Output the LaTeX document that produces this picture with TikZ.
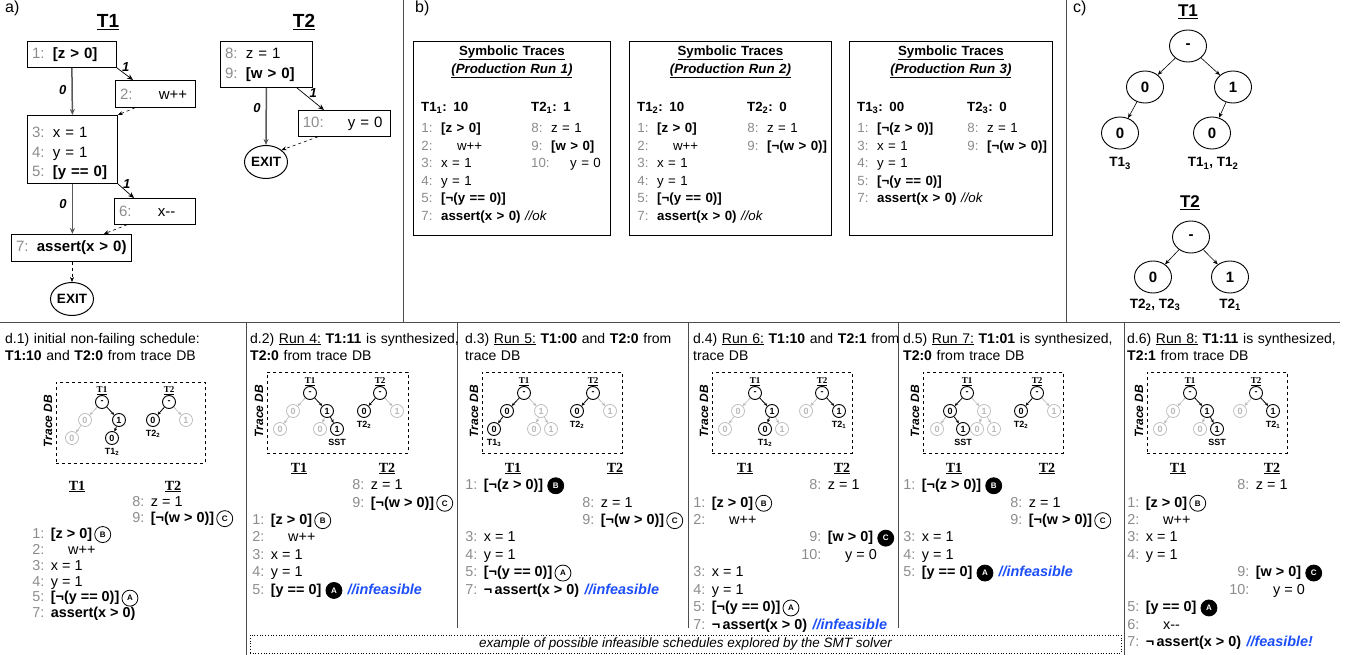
\documentclass[tikz,border=0pt]{standalone}
\usepackage{fontspec}
\setmainfont{Liberation Sans}
\newfontfamily\hdserif{Liberation Serif}
\usetikzlibrary{positioning,arrows.meta,shapes.geometric}

\definecolor{numgray}{gray}{0.55}
\definecolor{offgray}{gray}{0.72}
\definecolor{infblue}{RGB}{28,78,250}

\newcommand{\afont}{\fontsize{15}{19.5}\selectfont}
\newcommand{\bfnt}{\fontsize{13.3}{17.6}\selectfont}
\newcommand{\dfont}{\fontsize{14}{17.5}\selectfont}
\newcommand{\cfont}{\fontsize{14.4}{17.5}\selectfont}
\newcommand{\tfont}{\fontsize{9}{9}\selectfont\bfseries}
% gray line number, then the statement
\newcommand{\cl}[3][0.45em]{\makebox[0.85em][r]{\textcolor{numgray}{#2}}\hspace{#1}#3}
\newcommand{\ind}{\hspace{1.2em}}
\newcommand{\Ts}[2]{T#1\textsubscript{#2}}

\begin{document}
\begin{tikzpicture}[%
        x=1pt, y=-1pt,
        frame/.style={draw=black!70, line width=0.9pt},
        panel/.style={anchor=base west, inner sep=0pt, node font=\fontsize{16}{16}\selectfont},
        bigtitle/.style={anchor=base, inner sep=0pt, node font=\fontsize{19}{19}\selectfont\bfseries},
        cfgbox/.style={draw, line width=0.8pt, anchor=north west, inner xsep=4.5pt, inner ysep=0pt, align=left, node font=\afont},
        exitnode/.style={draw, ellipse, line width=1pt, minimum width=43pt, minimum height=33pt, inner sep=0pt, node font=\fontsize{13.5}{13.5}\selectfont\bfseries},
        zero/.style={draw=black!65, line width=1.5pt, -{Stealth[length=6pt, width=5pt]}},
        one/.style={line width=0.7pt, -{Stealth[length=6pt, width=5pt]}},
        back/.style={dashed, line width=0.6pt, -{Stealth[length=5pt, width=4pt]}},
        edgelab/.style={inner sep=0pt, node font=\fontsize{13}{13}\selectfont\bfseries\itshape},
        tracebox/.style={draw, line width=0.8pt, anchor=north west, minimum height=194pt, inner sep=0pt},
        tracetitle/.style={anchor=base, text width=190pt, align=center, inner sep=0pt, node font=\bfnt\bfseries},
        tracecol/.style={anchor=base west, text width=150pt, align=left, inner sep=0pt, node font=\bfnt},
        ctitle/.style={anchor=base, inner sep=0pt, node font=\fontsize{17}{17}\selectfont\bfseries},
        cnode/.style={draw, ellipse, line width=0.9pt, minimum width=37pt, minimum height=32pt, inner sep=0pt, node font=\fontsize{15}{15}\selectfont\bfseries},
        clabel/.style={anchor=base, inner sep=0pt, node font=\fontsize{13.5}{13.5}\selectfont\bfseries},
        cedge/.style={line width=0.6pt, -{Stealth[length=5pt, width=4pt]}},
        dhead/.style={anchor=base west, text width=240pt, align=left, inner sep=0pt, node font=\dfont},
        dbbox/.style={draw, dashed, line width=0.8pt, anchor=north west, minimum height=81pt, inner sep=0pt},
        dbname/.style={rotate=90, inner sep=0pt, node font=\fontsize{12}{12}\selectfont\bfseries\itshape},
        colhead/.style={anchor=base, inner sep=0pt, node font=\hdserif\fontsize{14}{14}\selectfont\bfseries},
        tn/.style={circle, draw, line width=0.9pt, minimum size=13pt, inner sep=0pt, node font=\tfont},
        tg/.style={tn, draw=offgray, text=offgray, line width=0.7pt},
        tttl/.style={inner sep=0pt, node font=\hdserif\tfont},
        tlab/.style={inner sep=0pt, node font=\tfont},
        te/.style={line width=0.8pt, -{Stealth[length=3.5pt, width=3pt]}},
        tge/.style={draw=offgray, line width=0.6pt, -{Stealth[length=3.5pt, width=3pt]}},
        code/.style={anchor=base west, inner sep=0pt, text height=10.5pt, text depth=3pt, node font=\cfont},
        mk/.style={circle, draw, fill=white, line width=0.8pt, minimum size=16pt, inner sep=0pt, node font=\fontsize{8}{8}\selectfont\bfseries},
        mkfull/.style={mk, fill=black, text=white},
        infeas/.style={code, text=infblue, node font=\cfont\bfseries\itshape},
        notebox/.style={draw, dotted, line width=0.7pt, minimum width=871pt, minimum height=18pt, inner sep=0pt, node font=\fontsize{13.5}{13.5}\selectfont\itshape},
    ]

    \useasboundingbox (0,0) rectangle (1352,655);

    \draw [frame] (0,322) -- (1340,322);
    \draw [frame] (403,0) -- (403,322);
    \draw [frame] (1066,0) -- (1066,322);
    \draw [frame] (246,322) -- (246,655);
    \draw [frame] (1124,322) -- (1124,655);
    \foreach \x in {457,688,898} {%
        \draw [frame] (\x,322) -- (\x,628);
    }

    % a) control flow of both threads
    \node (a_label) at (5,13) [panel] {a)};
    \node (a_t1) at (108,28) [bigtitle] {\underline{T1}};
    \node (a_t2) at (304,28) [bigtitle] {\underline{T2}};

    \node (s1) at (27,41) [cfgbox, text width=80pt, minimum height=26pt] {\cl[0.55em]{1:}{\textbf{[z > 0]}}};
    \node (s2) at (115,80) [cfgbox, text width=71pt, minimum height=27pt] {\cl[0.55em]{2:}{\ind w++}};
    \node (s3) at (27,115) [cfgbox, text width=81pt, text height=22.3pt, text depth=45.7pt] {\cl[0.55em]{3:}{x = 1}\\\cl[0.55em]{4:}{y = 1}\\\cl[0.55em]{5:}{\textbf{[y == 0]}}};
    \node (s6) at (114,198) [cfgbox, text width=72pt, minimum height=26pt] {\cl[0.55em]{6:}{\ind x-{}-}};
    \node (s7) at (11,234) [cfgbox, text width=111pt, minimum height=27pt] {\cl[0.55em]{7:}{\textbf{assert(x > 0)}}};
    \node (e1) at (72,299) [exitnode] {EXIT};

    \node (s8) at (220,41) [cfgbox, text width=83pt, text height=17.3pt, text depth=28.7pt] {\cl[0.55em]{8:}{z = 1}\\\cl[0.55em]{9:}{\textbf{[w > 0]}}};
    \node (s10) at (298,110) [cfgbox, text width=83pt, minimum height=26pt] {\textcolor{numgray}{10:}\hspace{1.6em}y = 0};
    \node (e2) at (266,162) [exitnode] {EXIT};

    \draw [zero] (s1.south) -- (s3.north) node (l0a) [edgelab, pos=0.48, left=5pt] {0};
    \draw [one] (s1.south east) -- ([xshift=18pt]s2.north west) node (l1a) [edgelab, pos=0.55, above=3pt] {1};
    \draw [back] ([xshift=20pt]s2.south west) -- (s3.north east);
    \draw [zero] (s3.south) -- (s3.south |- s7.north) node (l0b) [edgelab, pos=0.4, left=5pt] {0};
    \draw [one] (s3.south east) -- ([xshift=20pt]s6.north west) node (l1b) [edgelab, pos=0.55, above=3pt] {1};
    \draw [back] ([xshift=13pt]s6.south west) -- ([xshift=-28pt]s7.north east);
    \draw [back] (e1 |- s7.south) -- (e1.north);

    \draw [zero] (s8.south) -- (e2.north) node (l0c) [edgelab, pos=0.35, left=5pt] {0};
    \draw [one] ([xshift=-16pt]s8.south east) -- ([xshift=26pt]s10.north west) node (l1c) [edgelab, pos=0.6, above=3pt] {1};
    \draw [back] ([xshift=20pt]s10.south west) -- (e2.north east);

    % b) symbolic traces
    \node (b_label) at (415,13) [panel] {b)};
    \node (run1) at (413,41) [tracebox, minimum width=197pt] {};
    \node (run2) at (629,41) [tracebox, minimum width=202pt] {};
    \node (run3) at (849,41) [tracebox, minimum width=203pt] {};
    \foreach \run in {1,2,3} {%
        \node (run\run_title) at ([yshift=-14.5pt]run\run.north) [tracetitle] {\underline{Symbolic Traces}\\\underline{\textit{(Production Run \run)}}};
    }

    \node (run1_t1) at ([xshift=8pt, yshift=-70.5pt]run1.north west) [tracecol] {%
        \textbf{\Ts{1}{1}: 10}\\[3.4pt]
        \cl[0.65em]{1:}{\textbf{[z > 0]}}\\
        \cl[0.65em]{2:}{\ind w++}\\
        \cl[0.65em]{3:}{x = 1}\\
        \cl[0.65em]{4:}{y = 1}\\
        \cl[0.65em]{5:}{\textbf{[¬(y == 0)]}}\\
        \cl[0.65em]{7:}{\textbf{assert(x > 0)} \textit{//ok}}};
    \node (run1_t2) at ([xshift=118pt, yshift=-70.5pt]run1.north west) [tracecol, text width=75pt] {%
        \textbf{\Ts{2}{1}: 1}\\[3.4pt]
        \cl[0.65em]{8:}{z = 1}\\
        \cl[0.65em]{9:}{\textbf{[w > 0]}}\\
        \textcolor{numgray}{10:}\hspace{1.54em}y = 0};

    \node (run2_t1) at ([xshift=8pt, yshift=-70.5pt]run2.north west) [tracecol] {%
        \textbf{\Ts{1}{2}: 10}\\[3.4pt]
        \cl[0.65em]{1:}{\textbf{[z > 0]}}\\
        \cl[0.65em]{2:}{\ind w++}\\
        \cl[0.65em]{3:}{x = 1}\\
        \cl[0.65em]{4:}{y = 1}\\
        \cl[0.65em]{5:}{\textbf{[¬(y == 0)]}}\\
        \cl[0.65em]{7:}{\textbf{assert(x > 0)} \textit{//ok}}};
    \node (run2_t2) at ([xshift=118pt, yshift=-70.5pt]run2.north west) [tracecol, text width=82pt] {%
        \textbf{\Ts{2}{2}: 0}\\[3.4pt]
        \cl[0.65em]{8:}{z = 1}\\
        \cl[0.65em]{9:}{\textbf{[¬(w > 0)]}}};

    \node (run3_t1) at ([xshift=8pt, yshift=-70.5pt]run3.north west) [tracecol] {%
        \textbf{\Ts{1}{3}: 00}\\[3.4pt]
        \cl[0.65em]{1:}{\textbf{[¬(z > 0)]}}\\
        \cl[0.65em]{3:}{x = 1}\\
        \cl[0.65em]{4:}{y = 1}\\
        \cl[0.65em]{5:}{\textbf{[¬(y == 0)]}}\\
        \cl[0.65em]{7:}{\textbf{assert(x > 0)} \textit{//ok}}};
    \node (run3_t2) at ([xshift=118pt, yshift=-70.5pt]run3.north west) [tracecol, text width=82pt] {%
        \textbf{\Ts{2}{3}: 0}\\[3.4pt]
        \cl[0.65em]{8:}{z = 1}\\
        \cl[0.65em]{9:}{\textbf{[¬(w > 0)]}}};

    % c) trace DB
    \node (c_label) at (1073,13) [panel] {c)};
    \node (c1_title) at (1188,16.5) [ctitle] {\underline{T1}};
    \node (c1) at (1188,46) [cnode] {-};
    \node (c1_0) at (1145,87) [cnode] {0};
    \node (c1_1) at (1233,87) [cnode] {1};
    \node (c1_00) at (1120,133) [cnode] {0};
    \node (c1_10) at (1212,133) [cnode] {0};
    \node (c1_lab00) at (1120,167) [clabel] {\Ts{1}{3}};
    \node (c1_lab10) at (1213,167) [clabel] {\Ts{1}{1}, \Ts{1}{2}};
    \draw [cedge] (c1) -- (c1_0);
    \draw [cedge] (c1) -- (c1_1);
    \draw [cedge] (c1_0) -- (c1_00);
    \draw [cedge] (c1_1) -- (c1_10);

    \node (c2_title) at (1190,208) [ctitle] {\underline{T2}};
    \node (c2) at (1191,237) [cnode] {-};
    \node (c2_0) at (1153,277) [cnode] {0};
    \node (c2_1) at (1230,277) [cnode] {1};
    \node (c2_lab0) at (1155,308) [clabel] {\Ts{2}{2}, \Ts{2}{3}};
    \node (c2_lab1) at (1230,308) [clabel] {\Ts{2}{1}};
    \draw [cedge] (c2) -- (c2_0);
    \draw [cedge] (c2) -- (c2_1);

    % d) schedules: trace DB boxes, roots and column heads
    \foreach \i/\bx/\by/\bw/\ra/\rb/\ry/\ha/\hb/\hy in {%
            1/56/382/149/102/169/402/77/173/490,
            2/267/372/141/310/380/393/299/387/472,
            3/482/372/140/524/593/393/513/615/472,
            4/712/372/140/755/822/393/745/842/472,
            5/923/372/140/967/1037/393/954/1047/472,
            6/1147/372/140/1190/1256/393/1178/1272/472} {%
        \node (d\i_db) at (\bx,\by) [dbbox, minimum width=\bw pt] {};
        \node (d\i_dbname) at ([xshift=-8pt, yshift=2pt]d\i_db.west) [dbname] {Trace DB};
        \node (d\i a) at (\ra,\ry) [tn] {-};
        \node (d\i b) at (\rb,\ry) [tn] {-};
        \node (d\i a_ttl) [tttl, above=0.5pt of d\i a] {\underline{T1}};
        \node (d\i b_ttl) [tttl, above=0.5pt of d\i b] {\underline{T2}};
        \node (d\i_h1) at (\ha,\hy) [colhead] {\underline{T1}};
        \node (d\i_h2) at (\hb,\hy) [colhead] {\underline{T2}};
    }

    % d.1
    \node (d1a0) at ([shift={(-17,18)}]d1a) [tg] {0};
    \node (d1a1) at ([shift={(17,18)}]d1a) [tn] {1};
    \node (d1a00) at ([shift={(-30,36)}]d1a) [tg] {0};
    \node (d1a10) at ([shift={(10,36)}]d1a) [tn] {0};
    \node (d1a10_lab) [tlab, below=3pt of d1a10] {\Ts{1}{2}};
    \node (d1b0) at ([shift={(-16,18)}]d1b) [tn] {0};
    \node (d1b1) at ([shift={(17,18)}]d1b) [tg] {1};
    \node (d1b0_lab) [tlab, below=3pt of d1b0] {\Ts{2}{2}};
    \draw [tge] (d1a) -- (d1a0);
    \draw [te] (d1a) -- (d1a1);
    \draw [tge] (d1a0) -- (d1a00);
    \draw [te] (d1a1) -- (d1a10);
    \draw [te] (d1b) -- (d1b0);
    \draw [tge] (d1b) -- (d1b1);

    \node (d1_head) at (5,343) [dhead] {d.1) initial non-failing schedule:\\\textbf{T1:10} and \textbf{T2:0} from trace DB};
    \node (d1_8) at (132,506.5) [code] {\cl{8:}{z = 1}};
    \node (d1_9) at (132,522.4) [code] {\cl{9:}{\textbf{[¬(w > 0)]}}};
    \node (d1_C) [mk, right=2pt of d1_9] {C};
    \node (d1_1) at (32,538.3) [code] {\cl{1:}{\textbf{[z > 0]}}};
    \node (d1_B) [mk, right=2pt of d1_1] {B};
    \node (d1_2) at (32,554.2) [code] {\cl{2:}{\ind w++}};
    \node (d1_3) at (32,570.1) [code] {\cl{3:}{x = 1}};
    \node (d1_4) at (32,586) [code] {\cl{4:}{y = 1}};
    \node (d1_5) at (32,601.9) [code] {\cl{5:}{\textbf{[¬(y == 0)]}}};
    \node (d1_A) [mk, right=2pt of d1_5] {A};
    \node (d1_7) at (32,617.8) [code] {\cl{7:}{\textbf{assert(x > 0)}}};

    % d.2
    \node (d2a0) at ([shift={(-17,18)}]d2a) [tg] {0};
    \node (d2a1) at ([shift={(17,18)}]d2a) [tn] {1};
    \node (d2a00) at ([shift={(-30,36)}]d2a) [tg] {0};
    \node (d2a10) at ([shift={(10,36)}]d2a) [tg] {0};
    \node (d2a11) at ([shift={(27,36)}]d2a) [tn] {1};
    \node (d2a11_lab) [tlab, below=3pt of d2a11] {SST};
    \node (d2b0) at ([shift={(-16,18)}]d2b) [tn] {0};
    \node (d2b1) at ([shift={(17,18)}]d2b) [tg] {1};
    \node (d2b0_lab) [tlab, below=3pt of d2b0] {\Ts{2}{2}};
    \draw [tge] (d2a) -- (d2a0);
    \draw [te] (d2a) -- (d2a1);
    \draw [tge] (d2a0) -- (d2a00);
    \draw [tge] (d2a1) -- (d2a10);
    \draw [te] (d2a1) -- (d2a11);
    \draw [te] (d2b) -- (d2b0);
    \draw [tge] (d2b) -- (d2b1);

    \node (d2_head) at (250,343) [dhead] {d.2) \underline{Run 4:} \textbf{T1:11} is synthesized,\\\textbf{T2:0} from trace DB};
    \node (d2_8) at (352,489.5) [code] {\cl{8:}{z = 1}};
    \node (d2_9) at (352,507) [code] {\cl{9:}{\textbf{[¬(w > 0)]}}};
    \node (d2_C) [mk, right=2pt of d2_9] {C};
    \node (d2_1) at (252,524.4) [code] {\cl{1:}{\textbf{[z > 0]}}};
    \node (d2_B) [mk, right=2pt of d2_1] {B};
    \node (d2_2) at (252,541.9) [code] {\cl{2:}{\ind w++}};
    \node (d2_3) at (252,559.3) [code] {\cl{3:}{x = 1}};
    \node (d2_4) at (252,576.8) [code] {\cl{4:}{y = 1}};
    \node (d2_5) at (252,594.2) [code] {\cl{5:}{\textbf{[y == 0]}}};
    \node (d2_A) [mkfull, right=4pt of d2_5] {A};
    \node (d2_note) [infeas, right=5pt of d2_A] {//infeasible};

    % d.3
    \node (d3a0) at ([shift={(-17,18)}]d3a) [tn] {0};
    \node (d3a1) at ([shift={(17,18)}]d3a) [tg] {1};
    \node (d3a00) at ([shift={(-30,36)}]d3a) [tn] {0};
    \node (d3a10) at ([shift={(10,36)}]d3a) [tg] {0};
    \node (d3a11) at ([shift={(27,36)}]d3a) [tg] {1};
    \node (d3a00_lab) [tlab, below=3pt of d3a00] {\Ts{1}{3}};
    \node (d3b0) at ([shift={(-16,18)}]d3b) [tn] {0};
    \node (d3b1) at ([shift={(17,18)}]d3b) [tg] {1};
    \node (d3b0_lab) [tlab, below=3pt of d3b0] {\Ts{2}{2}};
    \draw [te] (d3a) -- (d3a0);
    \draw [tge] (d3a) -- (d3a1);
    \draw [te] (d3a0) -- (d3a00);
    \draw [tge] (d3a1) -- (d3a10);
    \draw [tge] (d3a1) -- (d3a11);
    \draw [te] (d3b) -- (d3b0);
    \draw [tge] (d3b) -- (d3b1);

    \node (d3_head) at (465,343) [dhead] {d.3) \underline{Run 5:} \textbf{T1:00} and \textbf{T2:0} from\\trace DB};
    \node (d3_1) at (465,489.5) [code] {\cl{1:}{\textbf{[¬(z > 0)]}}};
    \node (d3_B) [mkfull, right=4pt of d3_1] {B};
    \node (d3_8) at (582,507) [code] {\cl{8:}{z = 1}};
    \node (d3_9) at (582,524.4) [code] {\cl{9:}{\textbf{[¬(w > 0)]}}};
    \node (d3_C) [mk, right=2pt of d3_9] {C};
    \node (d3_3) at (465,541.9) [code] {\cl{3:}{x = 1}};
    \node (d3_4) at (465,559.3) [code] {\cl{4:}{y = 1}};
    \node (d3_5) at (465,576.8) [code] {\cl{5:}{\textbf{[¬(y == 0)]}}};
    \node (d3_A) [mk, right=2pt of d3_5] {A};
    \node (d3_7) at (465,594.2) [code] {\cl{7:}{\textbf{¬\,assert(x > 0)}}};
    \node (d3_note) [infeas, right=5pt of d3_7] {//infeasible};

    % d.4
    \node (d4a0) at ([shift={(-17,18)}]d4a) [tg] {0};
    \node (d4a1) at ([shift={(17,18)}]d4a) [tn] {1};
    \node (d4a00) at ([shift={(-30,36)}]d4a) [tg] {0};
    \node (d4a10) at ([shift={(10,36)}]d4a) [tn] {0};
    \node (d4a11) at ([shift={(27,36)}]d4a) [tg] {1};
    \node (d4a10_lab) [tlab, below=3pt of d4a10] {\Ts{1}{2}};
    \node (d4b0) at ([shift={(-16,18)}]d4b) [tg] {0};
    \node (d4b1) at ([shift={(17,18)}]d4b) [tn] {1};
    \node (d4b1_lab) [tlab, below=3pt of d4b1] {\Ts{2}{1}};
    \draw [tge] (d4a) -- (d4a0);
    \draw [te] (d4a) -- (d4a1);
    \draw [tge] (d4a0) -- (d4a00);
    \draw [te] (d4a1) -- (d4a10);
    \draw [tge] (d4a1) -- (d4a11);
    \draw [tge] (d4b) -- (d4b0);
    \draw [te] (d4b) -- (d4b1);

    \node (d4_head) at (693,343) [dhead] {d.4) \underline{Run 6:} \textbf{T1:10} and \textbf{T2:1} from\\trace DB};
    \node (d4_8) at (809,489.5) [code] {\cl{8:}{z = 1}};
    \node (d4_1) at (693,507) [code] {\cl{1:}{\textbf{[z > 0]}}};
    \node (d4_B) [mk, right=2pt of d4_1] {B};
    \node (d4_2) at (693,524.4) [code] {\cl{2:}{\ind w++}};
    \node (d4_9) at (809,541.9) [code] {\cl{9:}{\textbf{[w > 0]}}};
    \node (d4_C) [mkfull, right=4pt of d4_9] {C};
    \node (d4_10) at (809,559.3) [code] {\cl{10:}{\ind y = 0}};
    \node (d4_3) at (693,576.8) [code] {\cl{3:}{x = 1}};
    \node (d4_4) at (693,594.2) [code] {\cl{4:}{y = 1}};
    \node (d4_5) at (693,611.7) [code] {\cl{5:}{\textbf{[¬(y == 0)]}}};
    \node (d4_A) [mk, right=2pt of d4_5] {A};
    \node (d4_7) at (693,629.1) [code] {\cl{7:}{\textbf{¬\,assert(x > 0)}}};
    \node (d4_note) [infeas, right=5pt of d4_7] {//infeasible};

    % d.5
    \node (d5a0) at ([shift={(-17,18)}]d5a) [tn] {0};
    \node (d5a1) at ([shift={(17,18)}]d5a) [tg] {1};
    \node (d5a00) at ([shift={(-30,36)}]d5a) [tg] {0};
    \node (d5a01) at ([shift={(-4,36)}]d5a) [tn] {1};
    \node (d5a10) at ([shift={(10,36)}]d5a) [tg] {0};
    \node (d5a11) at ([shift={(27,36)}]d5a) [tg] {1};
    \node (d5a01_lab) [tlab, below=3pt of d5a01] {SST};
    \node (d5b0) at ([shift={(-16,18)}]d5b) [tn] {0};
    \node (d5b1) at ([shift={(17,18)}]d5b) [tg] {1};
    \node (d5b0_lab) [tlab, below=3pt of d5b0] {\Ts{2}{2}};
    \draw [te] (d5a) -- (d5a0);
    \draw [tge] (d5a) -- (d5a1);
    \draw [tge] (d5a0) -- (d5a00);
    \draw [te] (d5a0) -- (d5a01);
    \draw [tge] (d5a1) -- (d5a10);
    \draw [tge] (d5a1) -- (d5a11);
    \draw [te] (d5b) -- (d5b0);
    \draw [tge] (d5b) -- (d5b1);

    \node (d5_head) at (903,343) [dhead] {d.5) \underline{Run 7:} \textbf{T1:01} is synthesized,\\\textbf{T2:0} from trace DB};
    \node (d5_1) at (903,489.5) [code] {\cl{1:}{\textbf{[¬(z > 0)]}}};
    \node (d5_B) [mkfull, right=4pt of d5_1] {B};
    \node (d5_8) at (1010,507) [code] {\cl{8:}{z = 1}};
    \node (d5_9) at (1010,524.4) [code] {\cl{9:}{\textbf{[¬(w > 0)]}}};
    \node (d5_C) [mk, right=2pt of d5_9] {C};
    \node (d5_3) at (903,541.9) [code] {\cl{3:}{x = 1}};
    \node (d5_4) at (903,559.3) [code] {\cl{4:}{y = 1}};
    \node (d5_5) at (903,576.8) [code] {\cl{5:}{\textbf{[y == 0]}}};
    \node (d5_A) [mkfull, right=4pt of d5_5] {A};
    \node (d5_note) [infeas, right=5pt of d5_A] {//infeasible};

    % d.6
    \node (d6a0) at ([shift={(-17,18)}]d6a) [tg] {0};
    \node (d6a1) at ([shift={(17,18)}]d6a) [tn] {1};
    \node (d6a00) at ([shift={(-30,36)}]d6a) [tg] {0};
    \node (d6a10) at ([shift={(10,36)}]d6a) [tg] {0};
    \node (d6a11) at ([shift={(27,36)}]d6a) [tn] {1};
    \node (d6a11_lab) [tlab, below=3pt of d6a11] {SST};
    \node (d6b0) at ([shift={(-16,18)}]d6b) [tg] {0};
    \node (d6b1) at ([shift={(17,18)}]d6b) [tn] {1};
    \node (d6b1_lab) [tlab, below=3pt of d6b1] {\Ts{2}{1}};
    \draw [tge] (d6a) -- (d6a0);
    \draw [te] (d6a) -- (d6a1);
    \draw [tge] (d6a0) -- (d6a00);
    \draw [tge] (d6a1) -- (d6a10);
    \draw [te] (d6a1) -- (d6a11);
    \draw [tge] (d6b) -- (d6b0);
    \draw [te] (d6b) -- (d6b1);

    \node (d6_head) at (1127,343) [dhead] {d.6) \underline{Run 8:} \textbf{T1:11} is synthesized,\\\textbf{T2:1} from trace DB};
    \node (d6_8) at (1237,489.5) [code] {\cl{8:}{z = 1}};
    \node (d6_1) at (1127,507) [code] {\cl{1:}{\textbf{[z > 0]}}};
    \node (d6_B) [mk, right=2pt of d6_1] {B};
    \node (d6_2) at (1127,524.4) [code] {\cl{2:}{\ind w++}};
    \node (d6_3) at (1127,541.9) [code] {\cl{3:}{x = 1}};
    \node (d6_4) at (1127,559.3) [code] {\cl{4:}{y = 1}};
    \node (d6_9) at (1237,576.8) [code] {\cl{9:}{\textbf{[w > 0]}}};
    \node (d6_C) [mkfull, right=4pt of d6_9] {C};
    \node (d6_10) at (1237,594.2) [code] {\cl{10:}{\ind y = 0}};
    \node (d6_5) at (1127,611.7) [code] {\cl{5:}{\textbf{[y == 0]}}};
    \node (d6_A) [mkfull, right=4pt of d6_5] {A};
    \node (d6_6) at (1127,629.1) [code] {\cl{6:}{\ind x-{}-}};
    \node (d6_7) at (1127,646.6) [code] {\cl{7:}{\textbf{¬\,assert(x > 0)}}};
    \node (d6_note) [infeas, right=5pt of d6_7] {//feasible!};

    \node (smt_note) at (685.5,644) [notebox] {example of possible infeasible schedules explored by the SMT solver};
\end{tikzpicture}
\end{document}
